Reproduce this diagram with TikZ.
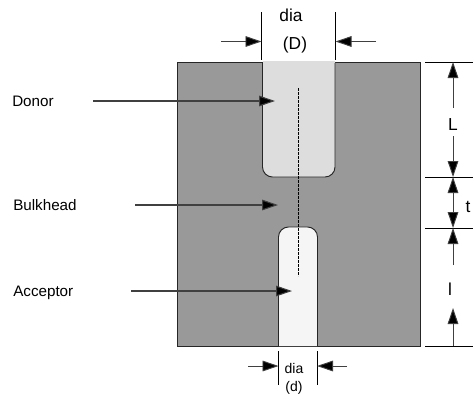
\documentclass[tikz,border=0pt]{standalone}
\usepackage{fontspec}
\setmainfont{Liberation Sans}
\usetikzlibrary{arrows.meta}
\definecolor{blockgray}{HTML}{999999}
\definecolor{donorgray}{HTML}{DDDDDD}
\definecolor{accgray}{HTML}{F5F5F5}
\tikzset{
  x=0.75pt,y=-0.75pt,
  outline/.style={draw=black!85,line width=0.7pt},
  dimline/.style={draw=black,line width=0.6pt},
  leader/.style={draw=black!75,line width=0.8pt,-{Triangle[length=12pt,width=8pt,fill=black]}},
  dimarrow/.style={draw=black!75,line width=0.7pt,-{Triangle[length=12pt,width=8pt,fill=black]}},
  lbl/.style={inner sep=0pt,font=\fontsize{11.4}{13}\selectfont},
  biglbl/.style={inner sep=0pt,font=\fontsize{13}{15}\selectfont},
  smalllbl/.style={inner sep=0pt,font=\fontsize{10.5}{12}\selectfont},
}
\begin{document}
\begin{tikzpicture}
\useasboundingbox (0,0) rectangle (473,396);
% block
\path[fill=blockgray,outline] (177.5,62) rectangle (420,346);
% donor hole
\path[fill=donorgray,outline,rounded corners=7.5pt] (262.5,62) -- (262.5,177) -- (335,177) -- (335,62);
\draw[draw=donorgray,line width=0.8pt] (263,62) -- (334.5,62);
% acceptor hole
\path[fill=accgray,outline,rounded corners=7.5pt] (278.5,346) -- (278.5,227) -- (317.5,227) -- (317.5,346);
% centre line
\coordinate (cA) at (298.5,88);
\coordinate (cB) at (298.5,276);
\draw[line width=0.6pt,dash pattern=on 2pt off 1pt] (cA) -- (cB);
% left labels
\node[lbl,anchor=west] (donor) at (12,101) {Donor};
\node[lbl,anchor=west] (bulk) at (13,205) {Bulkhead};
\node[lbl,anchor=west] (acc) at (13,293) {Acceptor};
\coordinate (donorS) at (93,101);
\coordinate (donorT) at (275,101);
\coordinate (bulkS) at (135,205);
\coordinate (bulkT) at (278,205);
\coordinate (accS) at (131,291);
\coordinate (accT) at (292,291);
\draw[leader] (donorS) -- (donorT);
\draw[leader] (bulkS) -- (bulkT);
\draw[leader] (accS) -- (accT);
% top dimension
\node[biglbl] (dia1) at (291,15) {dia};
\node[biglbl] (D) at (295,45) {(D)};
\coordinate (e1a) at (261.5,12); \coordinate (e1b) at (261.5,60);
\coordinate (e2a) at (335.5,12); \coordinate (e2b) at (335.5,60);
\draw[dimline] (e1a) -- (e1b);
\draw[dimline] (e2a) -- (e2b);
\coordinate (t1s) at (221,41.5); \coordinate (t1e) at (261.5,41.5);
\coordinate (t2s) at (376,41.5); \coordinate (t2e) at (335.5,41.5);
\draw[dimarrow] (t1s) -- (t1e);
\draw[dimarrow] (t2s) -- (t2e);
% bottom dimension
\node[smalllbl] (dia2) at (294,368) {dia};
\node[smalllbl] (d) at (294,388) {(d)};
\coordinate (e3a) at (278.5,351); \coordinate (e3b) at (278.5,385);
\coordinate (e4a) at (317,351); \coordinate (e4b) at (317,385);
\draw[dimline] (e3a) -- (e3b);
\draw[dimline] (e4a) -- (e4b);
\coordinate (b1s) at (248,366); \coordinate (b1e) at (278.5,366);
\coordinate (b2s) at (347,366); \coordinate (b2e) at (317,366);
\draw[dimarrow] (b1s) -- (b1e);
\draw[dimarrow] (b2s) -- (b2e);
% right extension lines
\foreach \y/\n in {62/r1,177/r2,228/r3,346/r4}{
  \coordinate (\n a) at (425,\y);
  \coordinate (\n b) at (473,\y);
  \coordinate (\n m) at (453,\y);
  \draw[dimline] (\n a) -- (\n b);
}
% right dimension labels
\node[biglbl] (L) at (453,125) {L};
\node[biglbl] (t) at (468,207) {t};
\node[biglbl] (l) at (450,289) {l};
\coordinate (La) at (453,108); \coordinate (Lb) at (453,136);
\coordinate (tm) at (453,202);
\coordinate (la) at (453,265); \coordinate (lb) at (453,346);
\draw[dimarrow] (La) -- (r1m);
\draw[dimarrow] (Lb) -- (r2m);
\draw[dimarrow] (tm) -- (r2m);
\draw[dimarrow] (tm) -- (r3m);
\draw[dimarrow] (la) -- (r3m);
\draw[dimarrow] (r4m) -- (453,308);
\end{tikzpicture}
\end{document}
